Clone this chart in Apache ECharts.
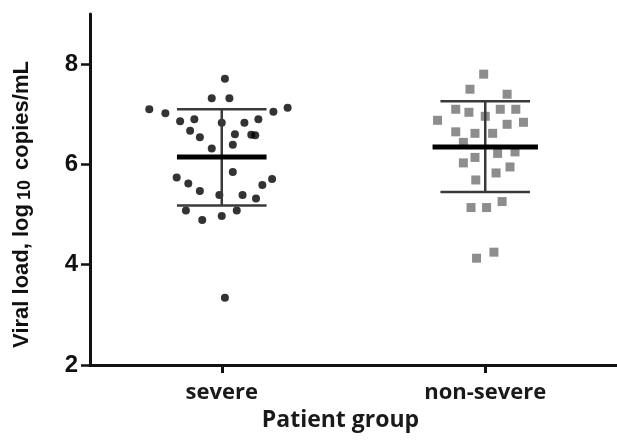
<!DOCTYPE html>
<html>
<head>
<meta charset="utf-8">
<script src="https://cdn.jsdelivr.net/npm/echarts@6/dist/echarts.min.js"></script>
<style>
  html, body { margin: 0; padding: 0; background: #fff; }
  #chart { width: 617px; height: 444px; }
</style>
</head>
<body>
<div id="chart"></div>
<script>
// Patient groups on the x axis (group 1 = severe, group 2 = non-severe)
const groups = ['severe', 'non-severe'];
const groupPositions = [1, 2];
const yTicks = [2, 4, 6, 8];

// Individual patients: horizontal spread within the group and viral load (log10 copies/mL)
const severeX = [1.012, 0.962, 1.029, 0.725, 0.786, 1.196, 1.250, 0.842, 0.896, 1.000,
                 1.086, 1.139, 0.880, 0.917, 1.050, 1.112, 1.127, 0.962, 1.042, 1.042,
                 0.829, 0.873, 0.917, 0.991, 1.079, 1.130, 1.154, 1.191, 0.864, 0.926,
                 1.000, 1.057, 1.012];
const severeY = [7.71, 7.32, 7.32, 7.10, 7.02, 7.05, 7.13, 6.86, 6.90, 6.83,
                 6.83, 6.90, 6.67, 6.54, 6.60, 6.59, 6.58, 6.32, 6.39, 5.85,
                 5.74, 5.62, 5.47, 5.39, 5.39, 5.32, 5.59, 5.71, 5.08, 4.89,
                 4.97, 5.08, 3.34];

const nonSevereX = [1.994, 1.942, 2.083, 1.888, 1.938, 2.000, 2.057, 2.116, 1.819, 2.083,
                    2.145, 1.888, 1.961, 2.028, 1.917, 2.047, 2.113, 1.961, 1.917, 2.094,
                    2.041, 1.964, 1.946, 2.005, 2.064, 1.967, 2.033];
const nonSevereY = [7.80, 7.50, 7.40, 7.10, 7.04, 6.96, 7.10, 7.10, 6.88, 6.80,
                    6.84, 6.65, 6.62, 6.62, 6.44, 6.22, 6.25, 6.14, 6.03, 5.95,
                    5.83, 5.69, 5.14, 5.14, 5.26, 4.13, 4.25];

// Group summary: mean and mean ± SD
const groupMean = [6.15, 6.35];
const groupSdLow = [5.18, 5.45];
const groupSdHigh = [7.10, 7.26];

const pair = (xs, ys) => xs.map((x, i) => [x, ys[i]]);
const summaryData = groupPositions.map((g, i) => [g, groupMean[i], groupSdLow[i], groupSdHigh[i]]);

const chart = echarts.init(document.getElementById('chart'), null, { renderer: 'canvas' });

const axisColor = '#111';
const capHalf = 0.17;              // half width of the SD caps, in x units
const meanHalf = [0.17, 0.20];     // half width of the mean bar per group

chart.setOption({
  animation: false,
  backgroundColor: '#fff',
  grid: { left: 90, right: 0, top: 14, bottom: 79 },
  xAxis: {
    type: 'value',
    min: 0.5,
    max: 2.5,
    name: 'Patient group',
    nameLocation: 'middle',
    nameGap: 43,
    nameTextStyle: {
      fontFamily: 'Open Sans', fontWeight: 700, fontSize: 23, color: '#1a1a1a',
      padding: [0, 26, 0, 0]
    },
    axisLine: { show: true, onZero: false, lineStyle: { color: axisColor, width: 3 } },
    axisTick: { show: true, customValues: groupPositions, length: 8, lineStyle: { color: axisColor, width: 3 } },
    axisLabel: {
      customValues: groupPositions,
      formatter: v => groups[Math.round(v) - 1],
      margin: 17,
      fontFamily: 'Open Sans', fontWeight: 700, fontSize: 22, color: '#1a1a1a'
    },
    splitLine: { show: false }
  },
  yAxis: {
    type: 'value',
    min: 2,
    max: 9,
    name: 'Viral load, log{sub|10} copies/mL',
    nameLocation: 'middle',
    nameGap: 56,
    nameTextStyle: {
      fontFamily: 'Liberation Sans', fontWeight: 'bold', fontSize: 22, color: '#111',
      padding: [0, 30, 0, 0],
      rich: {
        sub: {
          fontFamily: 'Liberation Sans', fontWeight: 'bold', fontSize: 18, color: '#111',
          verticalAlign: 'bottom', padding: [7, 4, 0, 4]
        }
      }
    },
    axisLine: { show: true, onZero: false, lineStyle: { color: axisColor, width: 3 } },
    axisTick: { show: true, customValues: yTicks, length: 9, lineStyle: { color: axisColor, width: 2.5 } },
    axisLabel: {
      customValues: yTicks,
      margin: 12,
      fontFamily: 'Liberation Sans', fontWeight: 'bold', fontSize: 24, color: '#111'
    },
    splitLine: { show: false }
  },
  series: [
    {
      name: 'severe',
      type: 'scatter',
      symbol: 'circle',
      symbolSize: 8,
      itemStyle: { color: '#000' },
      data: pair(severeX, severeY),
      z: 2
    },
    {
      name: 'non-severe',
      type: 'scatter',
      symbol: 'rect',
      symbolSize: 9,
      itemStyle: { color: '#707070' },
      data: pair(nonSevereX, nonSevereY),
      z: 2
    },
    {
      name: 'mean ± SD',
      type: 'custom',
      z: 5,
      data: summaryData,
      renderItem: (params, api) => {
        const g = api.value(0);
        const mean = api.value(1);
        const lo = api.value(2);
        const hi = api.value(3);
        const pLo = api.coord([g, lo]);
        const pHi = api.coord([g, hi]);
        const capL = api.coord([g - capHalf, 0])[0];
        const capR = api.coord([g + capHalf, 0])[0];
        const mh = meanHalf[params.dataIndex];
        const mL = api.coord([g - mh, mean]);
        const mR = api.coord([g + mh, mean]);
        const thin = { stroke: '#3a3a3a', lineWidth: 2.5 };
        return {
          type: 'group',
          children: [
            { type: 'line', shape: { x1: pLo[0], y1: pLo[1], x2: pHi[0], y2: pHi[1] }, style: thin },
            { type: 'line', shape: { x1: capL, y1: pHi[1], x2: capR, y2: pHi[1] }, style: thin },
            { type: 'line', shape: { x1: capL, y1: pLo[1], x2: capR, y2: pLo[1] }, style: thin },
            { type: 'line', shape: { x1: mL[0], y1: mL[1], x2: mR[0], y2: mR[1] }, style: { stroke: '#000', lineWidth: 5 } }
          ]
        };
      }
    }
  ]
});
</script>
</body>
</html>
